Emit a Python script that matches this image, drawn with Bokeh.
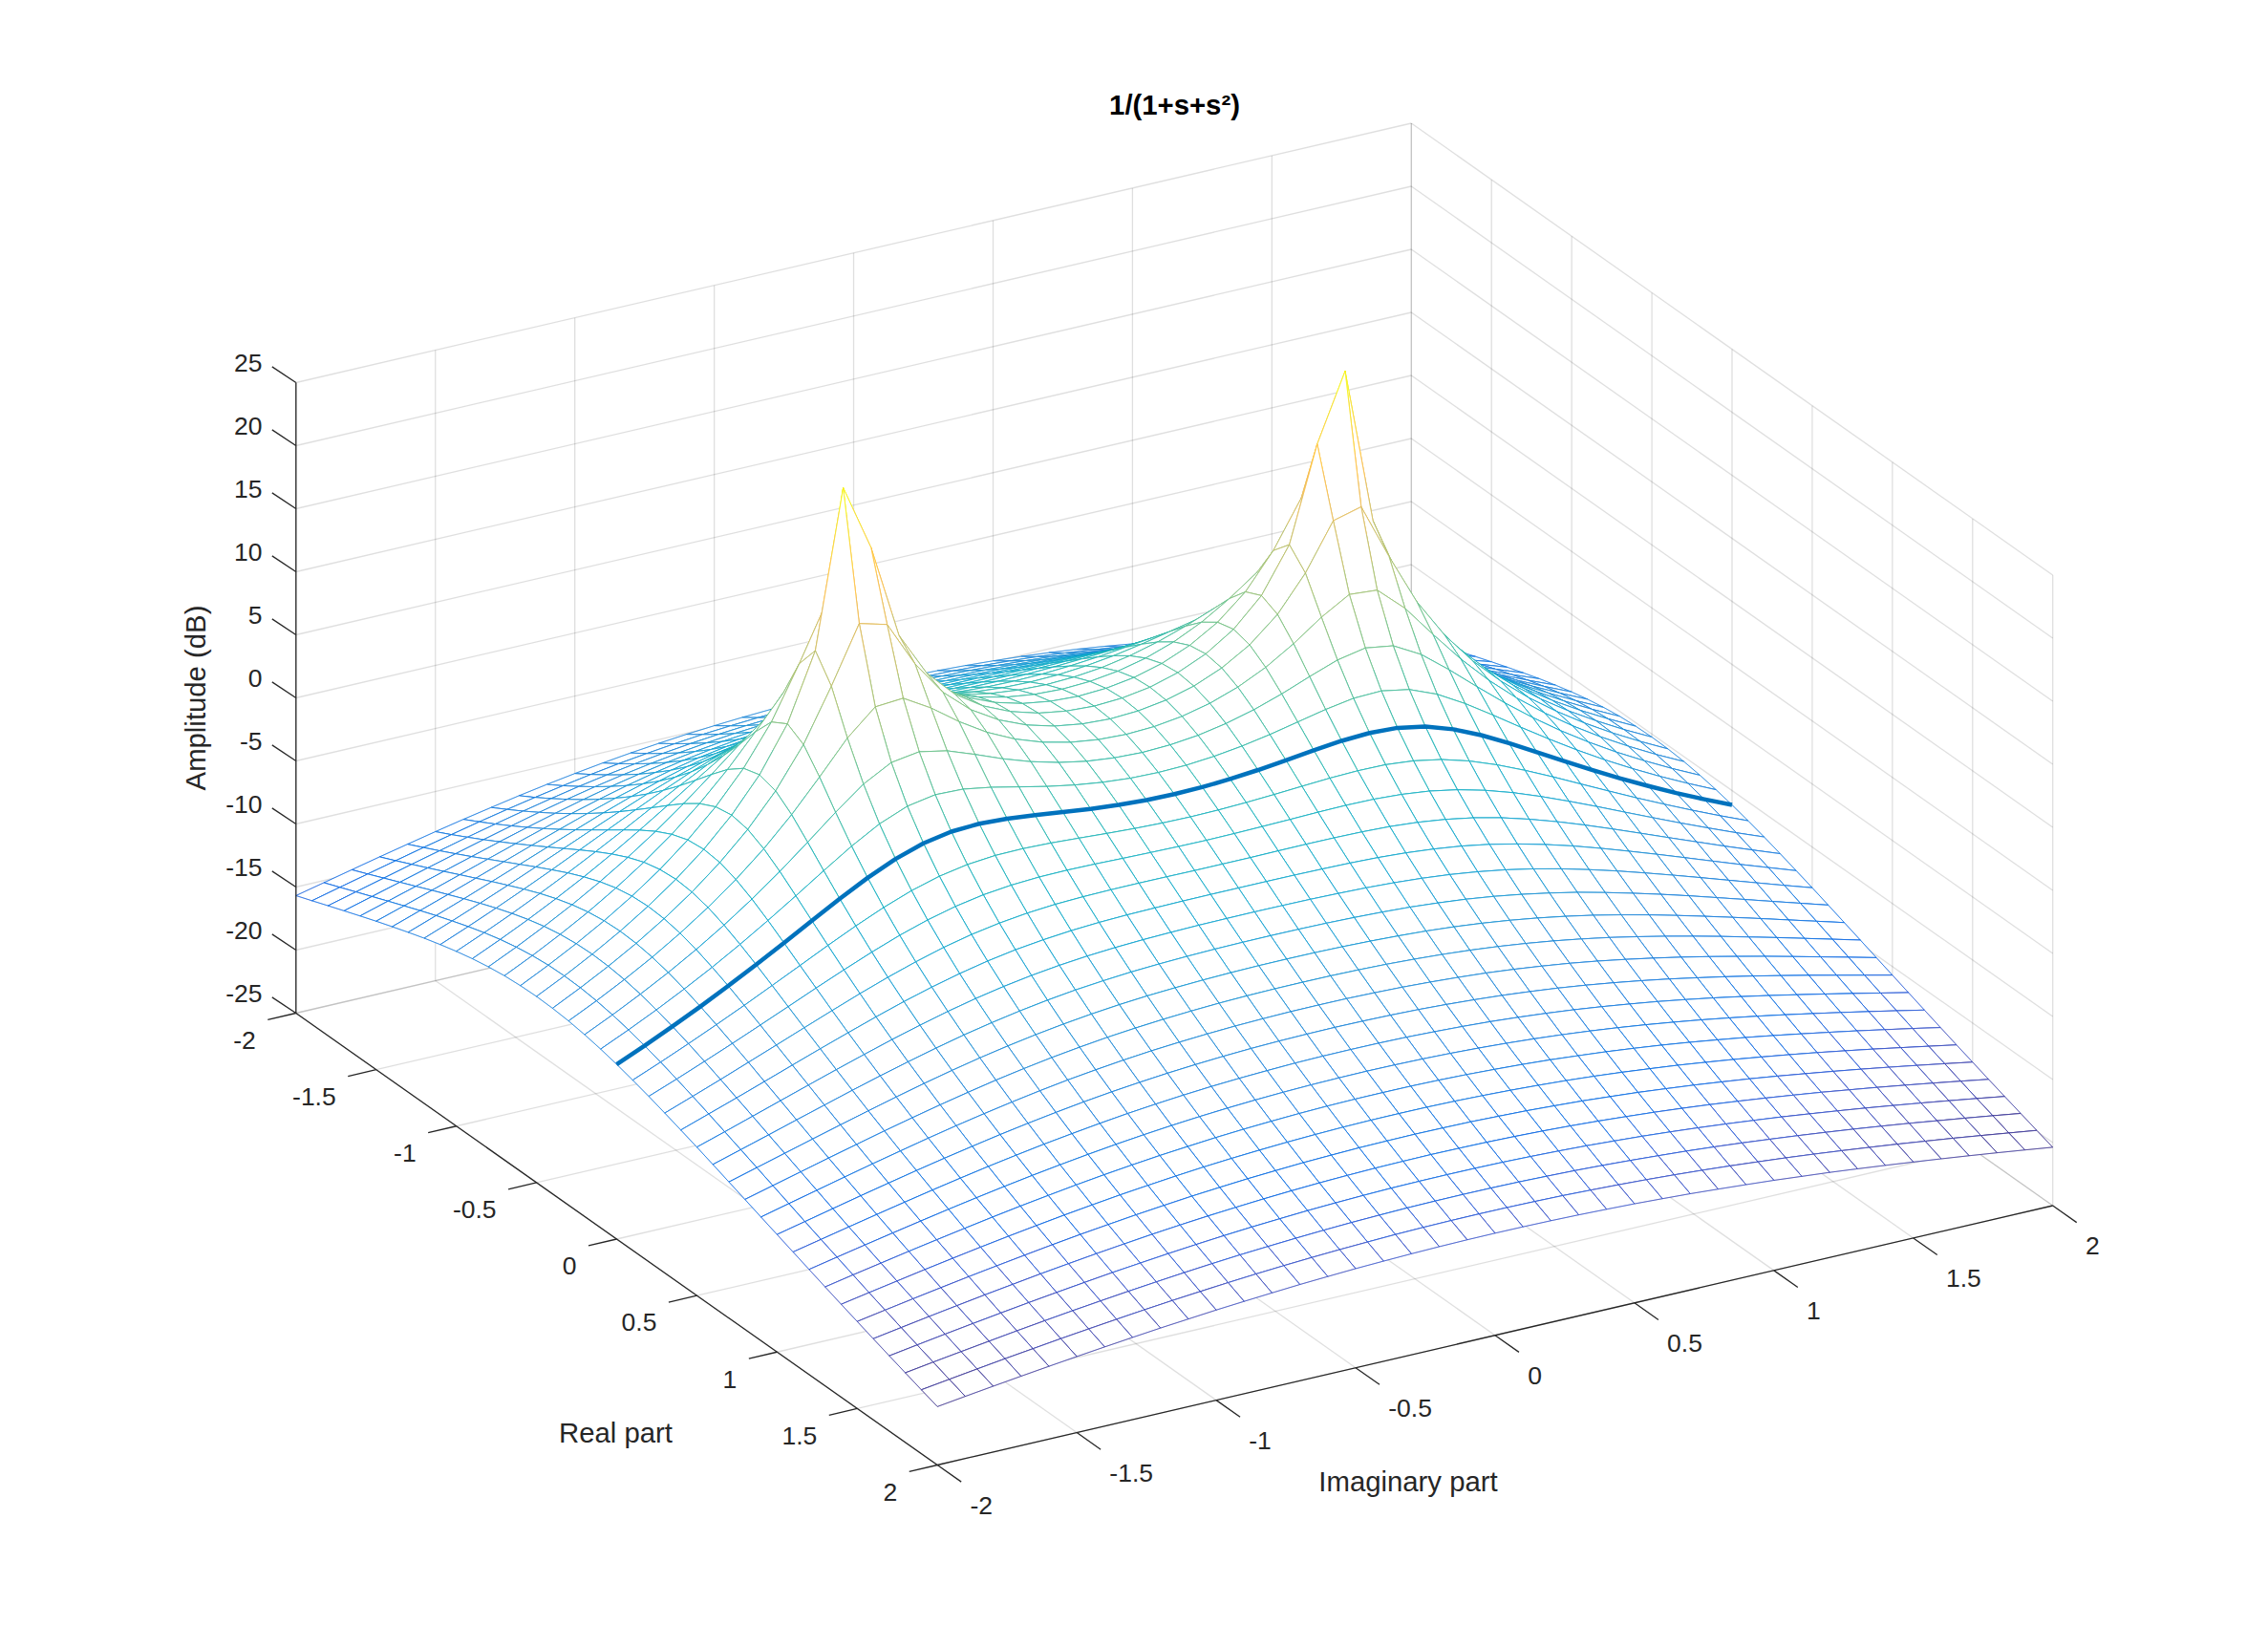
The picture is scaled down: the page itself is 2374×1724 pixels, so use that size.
from math import pi
from bokeh.plotting import figure
from bokeh.models import ColumnDataSource, Range1d
from bokeh.core.properties import value
from bokeh.embed import file_html
from bokeh.resources import INLINE

# ---- Data -------------------------------------------------------------------
# Amplitude (dB) at mesh nodes. Hand-worked literals from the title's 1/(1+s+s^2),
# checked against the reference (peaks, corners). The surface is symmetric, so one
# quadrant is listed: one row per |imag| = 0.0..2.0, columns |real+0.5| = 0.0..2.5.
im00 = [2.50,2.38,2.05,1.51,0.82,0.00,-0.91,-1.87,-2.86,-3.86,-4.86,-5.85,-6.81,-7.75,-8.66,-9.54,-10.40,-11.22,-12.02,-12.79,-13.53,-14.25,-14.95,-15.62,-16.27,-16.90]
im01 = [2.62,2.50,2.15,1.60,0.88,0.04,-0.88,-1.85,-2.86,-3.86,-4.87,-5.86,-6.82,-7.76,-8.67,-9.56,-10.41,-11.24,-12.03,-12.80,-13.55,-14.27,-14.96,-15.63,-16.28,-16.91]
im02 = [2.97,2.84,2.45,1.84,1.07,0.17,-0.80,-1.81,-2.84,-3.87,-4.89,-5.89,-6.86,-7.80,-8.72,-9.60,-10.45,-11.28,-12.07,-12.84,-13.58,-14.30,-14.99,-15.66,-16.31,-16.94]
im03 = [3.61,3.44,2.97,2.26,1.37,0.37,-0.68,-1.76,-2.83,-3.90,-4.94,-5.95,-6.93,-7.87,-8.79,-9.67,-10.53,-11.35,-12.14,-12.91,-13.65,-14.36,-15.05,-15.72,-16.36,-16.99]
im04 = [4.58,4.36,3.74,2.84,1.77,0.63,-0.54,-1.70,-2.84,-3.94,-5.01,-6.04,-7.03,-7.98,-8.90,-9.78,-10.63,-11.45,-12.24,-13.00,-13.73,-14.44,-15.13,-15.79,-16.44,-17.06]
im05 = [6.02,5.68,4.79,3.58,2.25,0.90,-0.41,-1.67,-2.88,-4.02,-5.12,-6.16,-7.16,-8.12,-9.04,-9.92,-10.76,-11.58,-12.36,-13.12,-13.85,-14.55,-15.23,-15.89,-16.53,-17.14]
im06 = [8.18,7.58,6.15,4.44,2.73,1.14,-0.34,-1.70,-2.97,-4.16,-5.28,-6.34,-7.34,-8.30,-9.21,-10.09,-10.93,-11.74,-12.51,-13.26,-13.98,-14.68,-15.36,-16.01,-16.64,-17.25]
im07 = [11.70,10.34,7.74,5.24,3.10,1.25,-0.37,-1.83,-3.15,-4.37,-5.50,-6.56,-7.57,-8.52,-9.43,-10.30,-11.13,-11.93,-12.70,-13.43,-14.15,-14.84,-15.50,-16.15,-16.77,-17.37]
im08 = [19.17,13.98,9.03,5.68,3.17,1.14,-0.58,-2.08,-3.43,-4.65,-5.79,-6.85,-7.85,-8.79,-9.69,-10.54,-11.36,-12.15,-12.90,-13.63,-14.33,-15.01,-15.67,-16.30,-16.92,-17.52]
im09 = [24.44,14.57,8.86,5.34,2.77,0.73,-0.99,-2.49,-3.82,-5.03,-6.15,-7.20,-8.18,-9.10,-9.98,-10.82,-11.63,-12.40,-13.14,-13.86,-14.55,-15.21,-15.86,-16.48,-17.09,-17.68]
im10 = [12.04,10.11,6.90,4.14,1.88,0.00,-1.62,-3.05,-4.33,-5.51,-6.59,-7.61,-8.56,-9.46,-10.32,-11.14,-11.93,-12.68,-13.40,-14.10,-14.78,-15.43,-16.07,-16.68,-17.28,-17.85]
im11 = [6.75,6.00,4.32,2.42,0.63,-0.98,-2.44,-3.75,-4.96,-6.07,-7.10,-8.07,-8.99,-9.86,-10.70,-11.49,-12.25,-12.99,-13.69,-14.38,-15.04,-15.68,-16.30,-16.90,-17.48,-18.05]
im12 = [3.22,2.84,1.85,0.56,-0.80,-2.13,-3.39,-4.57,-5.67,-6.70,-7.68,-8.60,-9.47,-10.31,-11.11,-11.87,-12.61,-13.32,-14.01,-14.67,-15.31,-15.94,-16.54,-17.13,-17.70,-18.25]
im13 = [0.54,0.30,-0.34,-1.24,-2.28,-3.36,-4.42,-5.46,-6.45,-7.40,-8.30,-9.17,-9.99,-10.79,-11.55,-12.29,-12.99,-13.68,-14.34,-14.99,-15.61,-16.22,-16.81,-17.38,-17.94,-18.48]
im14 = [-1.66,-1.81,-2.26,-2.92,-3.72,-4.60,-5.50,-6.39,-7.28,-8.14,-8.97,-9.77,-10.55,-11.30,-12.02,-12.72,-13.40,-14.06,-14.70,-15.32,-15.93,-16.51,-17.09,-17.64,-18.19,-18.72]
im15 = [-3.52,-3.64,-3.96,-4.47,-5.10,-5.81,-6.57,-7.35,-8.13,-8.90,-9.66,-10.40,-11.13,-11.83,-12.52,-13.18,-13.83,-14.46,-15.08,-15.67,-16.26,-16.83,-17.38,-17.92,-18.45,-18.97]
im16 = [-5.15,-5.24,-5.49,-5.89,-6.40,-6.98,-7.63,-8.30,-8.99,-9.68,-10.37,-11.06,-11.73,-12.39,-13.03,-13.66,-14.28,-14.88,-15.47,-16.04,-16.60,-17.15,-17.69,-18.21,-18.73,-19.23]
im17 = [-6.61,-6.68,-6.88,-7.20,-7.61,-8.10,-8.65,-9.24,-9.84,-10.47,-11.09,-11.72,-12.34,-12.95,-13.56,-14.15,-14.74,-15.31,-15.87,-16.42,-16.96,-17.49,-18.01,-18.52,-19.01,-19.50]
im18 = [-7.92,-7.98,-8.14,-8.40,-8.75,-9.17,-9.64,-10.15,-10.69,-11.25,-11.81,-12.39,-12.96,-13.53,-14.10,-14.66,-15.21,-15.75,-16.29,-16.82,-17.33,-17.84,-18.34,-18.83,-19.31,-19.78]
im19 = [-9.13,-9.17,-9.31,-9.53,-9.82,-10.18,-10.59,-11.04,-11.51,-12.01,-12.53,-13.05,-13.58,-14.11,-14.64,-15.17,-15.69,-16.20,-16.71,-17.22,-17.71,-18.20,-18.68,-19.15,-19.62,-20.07]
im20 = [-10.24,-10.28,-10.39,-10.58,-10.83,-11.14,-11.50,-11.89,-12.32,-12.77,-13.23,-13.71,-14.20,-14.69,-15.19,-15.68,-16.17,-16.66,-17.15,-17.63,-18.10,-18.57,-19.03,-19.48,-19.93,-20.37]
rows = [im00,im01,im02,im03,im04,im05,im06,im07,im08,im09,im10,im11,im12,im13,im14,im15,im16,im17,im18,im19,im20]

plane_ticks = [-2, -1.5, -1, -0.5, 0, 0.5, 1, 1.5, 2]
plane_labels = ["-2", "-1.5", "-1", "-0.5", "0", "0.5", "1", "1.5", "2"]
z_ticks = [-25, -20, -15, -10, -5, 0, 5, 10, 15, 20, 25]
z_labels = ["-25", "-20", "-15", "-10", "-5", "0", "5", "10", "15", "20", "25"]
title_text = "1/(1+s+s\u00b2)"
xlabel_text = "Real part"
ylabel_text = "Imaginary part"
zlabel_text = "Amplitude (dB)"

# 64-level colormap used for the mesh edges
PARULA = [(.2081,.1663,.5292),(.2116,.19,.5777),(.2123,.2138,.6270),(.2081,.2386,.6771),(.1959,.2645,.7279),
          (.1707,.2919,.7792),(.1253,.3242,.8303),(.0591,.3598,.8683),(.0117,.3875,.8820),(.0060,.4086,.8828),
          (.0165,.4266,.8786),(.0329,.4430,.8720),(.0498,.4586,.8641),(.0629,.4737,.8554),(.0723,.4887,.8467),
          (.0779,.5040,.8384),(.0793,.5200,.8312),(.0749,.5375,.8263),(.0641,.5570,.8240),(.0488,.5772,.8228),
          (.0343,.5966,.8199),(.0265,.6137,.8135),(.0239,.6287,.8038),(.0231,.6418,.7913),(.0228,.6535,.7768),
          (.0267,.6642,.7607),(.0384,.6743,.7436),(.0590,.6838,.7254),(.0843,.6928,.7062),(.1133,.7015,.6859),
          (.1453,.7098,.6646),(.1801,.7177,.6424),(.2178,.7250,.6193),(.2586,.7317,.5954),(.3022,.7376,.5712),
          (.3482,.7424,.5473),(.3953,.7459,.5244),(.4420,.7481,.5033),(.4871,.7491,.4840),(.5300,.7491,.4661),
          (.5709,.7485,.4494),(.6099,.7473,.4337),(.6473,.7456,.4188),(.6834,.7435,.4044),(.7184,.7411,.3905),
          (.7525,.7384,.3768),(.7858,.7356,.3633),(.8185,.7327,.3498),(.8507,.7299,.3360),(.8824,.7274,.3217),
          (.9139,.7258,.3063),(.9450,.7261,.2886),(.9739,.7314,.2666),(.9938,.7455,.2403),(.9990,.7653,.2164),
          (.9955,.7861,.1967),(.9880,.8066,.1794),(.9789,.8271,.1633),(.9697,.8481,.1475),(.9626,.8705,.1309),
          (.9589,.8949,.1132),(.9598,.9218,.0948),(.9661,.9514,.0755),(.9763,.9831,.0538)]

# ---- View: orthographic, basis vectors in page pixels --------------------------
O = (309.3, 1060.0)
AX = (671.4, 473.0)
AY = (1167.5, -271.5)
AZ = (0.0, -660.0)

def proj(x, y, z):
    fx, fy, fz = (x + 2) / 4, (y + 2) / 4, (z + 25) / 50
    return (O[0] + fx * AX[0] + fy * AY[0] + fz * AZ[0],
            O[1] + fx * AX[1] + fy * AY[1] + fz * AZ[1])

N = 41
grid_vals = [-2 + 0.1 * k for k in range(N)]
def amp(i, j):
    # i: real index (-2..2), j: imag index (-2..2); mirrored look-up in the quadrant
    return rows[abs(j - 20)][abs(i - 15)]

zmin = min(min(r) for r in rows)
zmax = max(max(r) for r in rows)

def color(z):
    t = max(0.0, min(1.0, (z - zmin) / (zmax - zmin)))
    c = PARULA[int(round(t * 63))]
    return "#%02x%02x%02x" % tuple(int(round(v * 255)) for v in c)

p = figure(width=2358, height=1708, output_backend="svg", toolbar_location=None,
           x_range=Range1d(0, 2358), y_range=Range1d(1708, 0),
           x_axis_location=None, y_axis_location=None, min_border=0,
           outline_line_color=None, background_fill_color="white", border_fill_color="white")
p.grid.visible = False

# ---- Grid (semi-transparent so coincident lines darken as in the reference) ----
gx, gy = [], []
def seg(a, b):
    pa, pb = proj(*a), proj(*b)
    gx.append([pa[0], pb[0]]); gy.append([pa[1], pb[1]])
for z in z_ticks:
    seg((-2, -2, z), (-2, 2, z))
    seg((-2, 2, z), (2, 2, z))
for t in plane_ticks:
    seg((-2, t, -25), (-2, t, 25))
    seg((t, 2, -25), (t, 2, 25))
    seg((t, -2, -25), (t, 2, -25))
    seg((-2, t, -25), (2, t, -25))
p.multi_line(gx, gy, line_color="#262626", line_alpha=0.15, line_width=1.3)

# ---- Mesh, back to front: white face, then its four coloured edges -------------
xs, ys, fa, la, lc = [], [], [], [], []
def add_edge(i0, j0, i1, j1):
    z0, z1 = amp(i0, j0), amp(i1, j1)
    a = proj(grid_vals[i0], grid_vals[j0], z0)
    b = proj(grid_vals[i1], grid_vals[j1], z1)
    n = max(1, min(8, int(abs(z1 - z0) / 2.0) + 1))
    for k in range(n):
        f0, f1 = k / n, (k + 1) / n
        xs.append([a[0] + f0 * (b[0] - a[0]), a[0] + f1 * (b[0] - a[0])])
        ys.append([a[1] + f0 * (b[1] - a[1]), a[1] + f1 * (b[1] - a[1])])
        fa.append(0.0); la.append(1.0)
        lc.append(color(z0 + (f0 + f1) / 2 * (z1 - z0)))

for i in range(N - 1):
    for j in range(N - 2, -1, -1):
        corners = [(i, j), (i + 1, j), (i + 1, j + 1), (i, j + 1)]
        pts = [proj(grid_vals[a], grid_vals[b], amp(a, b)) for a, b in corners]
        xs.append([q[0] for q in pts]); ys.append([q[1] for q in pts])
        fa.append(1.0); la.append(0.0); lc.append("#ffffff")
        for m in range(4):
            c0, c1 = corners[m], corners[(m + 1) % 4]
            add_edge(c0[0], c0[1], c1[0], c1[1])

mesh = ColumnDataSource(dict(xs=xs, ys=ys, fa=fa, la=la, lc=lc))
p.patches("xs", "ys", source=mesh, fill_color="white", fill_alpha="fa",
          line_color="lc", line_alpha="la", line_width=0.55)

# ---- Thick curve along real part = 0 --------------------------------------------
curve = [proj(0, grid_vals[j], amp(20, j)) for j in range(N)]
p.line([q[0] for q in curve], [q[1] for q in curve], line_color="#0072BD",
       line_width=4.5, line_join="round")

# ---- Rulers and ticks ------------------------------------------------------------
rx, ry = [], []
def rseg(a, b):
    rx.append([a[0], b[0]]); ry.append([a[1], b[1]])
rseg(proj(-2, -2, -25), proj(-2, -2, 25))
rseg(proj(-2, -2, -25), proj(2, -2, -25))
rseg(proj(2, -2, -25), proj(2, 2, -25))
for z in z_ticks:
    b = proj(-2, -2, z)
    rseg(b, (b[0] - 25, b[1] - 16.6))
for t in plane_ticks:
    b = proj(t, -2, -25)
    rseg(b, (b[0] - 29.5, b[1] + 6.9))
    b = proj(2, t, -25)
    rseg(b, (b[0] + 25, b[1] + 17.6))
p.multi_line(rx, ry, line_color="#262626", line_width=1.3)

# ---- Texts -----------------------------------------------------------------------
FONT = value("Liberation Sans")
TXT = "#262626"
zp = [proj(-2, -2, z) for z in z_ticks]
p.text([q[0] - 35.3 for q in zp], [q[1] - 21 for q in zp], text=z_labels, text_font=FONT,
       text_font_size="26.5px", text_color=TXT, text_align="right", text_baseline="middle")
xp = [proj(t, -2, -25) for t in plane_ticks]
p.text([q[0] - 42 for q in xp], [q[1] + 28.3 for q in xp], text=plane_labels, text_font=FONT,
       text_font_size="26.5px", text_color=TXT, text_align="right", text_baseline="middle")
yp = [proj(2, t, -25) for t in plane_ticks]
p.text([q[0] + 34.2 for q in yp], [q[1] + 42 for q in yp], text=plane_labels, text_font=FONT,
       text_font_size="26.5px", text_color=TXT, text_align="left", text_baseline="middle")

p.text([644], [1499], text=[xlabel_text], text_font=FONT, text_font_size="29.3px",
       text_color=TXT, text_align="center", text_baseline="middle")
p.text([1473.5], [1550], text=[ylabel_text], text_font=FONT, text_font_size="29.3px",
       text_color=TXT, text_align="center", text_baseline="middle")
p.text([203.5], [730], text=[zlabel_text], text_font=FONT, text_font_size="29.3px",
       text_color=TXT, text_align="center", text_baseline="middle", angle=pi / 2)
p.text([1229], [108.5], text=[title_text], text_font=FONT, text_font_size="29.3px",
       text_font_style="bold", text_color="#000000", text_align="center", text_baseline="alphabetic")

open("out.html", "w").write(file_html(p, INLINE))
